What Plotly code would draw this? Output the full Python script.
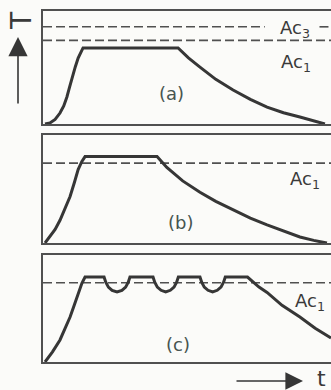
import plotly.graph_objects as go

# ---- data (time in % of window, temperature in % of panel range) ----
AC1 = 74
AC3 = 86

t_a = [0.7, 2.4, 4.2, 5.9, 7.2, 8.3, 9.2, 10.1, 11.2, 12.2, 13.1, 13.9,
       46.9, 50.5, 54.5, 60.0, 66.0, 72.0, 77.8, 83.5, 89.2, 94.0, 97.9]
T_a = [0, 0.9, 4.0, 9.7, 16.0, 23.9, 32.5, 41.6, 50.5, 58.4, 63.8, 67.3,
       67.3, 58.5, 50.4, 39.5, 30.1, 21.8, 15.0, 10.0, 6.2, 2.8, 0]

t_b = [0.7, 2.4, 4.2, 5.9, 7.6, 9.4, 10.9, 12.2, 13.5, 14.6,
       39.6, 43.0, 48.5, 54.5, 60.0, 66.0, 72.0, 77.8, 83.5, 89.2, 94.0, 98.6]
T_b = [0, 5.6, 12.5, 21, 31.5, 43, 56, 68, 75.5, 80,
       80, 70, 57.5, 47, 38.5, 30.6, 23.0, 16.7, 10.8, 5.6, 2.4, 0]

t_c = [0.7, 3.3, 5.9, 7.6, 9.4, 10.9, 12.2, 13.5, 14.6,
       21.2, 21.8, 22.7, 24.0, 25.7, 27.4, 28.7, 29.6, 30.2,
       38.2, 38.8, 39.7, 41.0, 42.6, 44.2, 45.5, 46.4, 47.0,
       54.5, 55.1, 56.0, 57.3, 58.9, 60.5, 61.8, 62.7, 63.3,
       71.0, 72.9, 75.0, 77.8, 83.0, 89.2, 94.5, 100]
T_c = [0, 9.5, 20.6, 31, 42, 53.5, 64.5, 73.5, 79.4,
       79.4, 74.5, 70.0, 67.0, 65.4, 67.0, 70.0, 74.5, 79.4,
       79.4, 74.5, 70.0, 67.0, 65.4, 67.0, 70.0, 74.5, 79.4,
       79.4, 74.5, 70.0, 67.0, 65.4, 67.0, 70.0, 74.5, 79.4,
       79.4, 75, 70, 65, 53, 42, 31.5, 22.4]

dash_t = [0, 100]
ac3_t = [0, 77, None, 96, 100]

panel_labels = ["(a)", "(b)", "(c)"]

W, H = 331, 390
LINE = "#363636"
THIN = "#505050"
TXT = "#3a3a3a"
FONT = "DejaVu Sans"

def px(x):
    return x / W

def py(y):
    return 1 - y / H

fig = go.Figure()

curves = [(t_a, T_a), (t_b, T_b), (t_c, T_c)]
ydoms = [(11, 124), (135, 243), (255, 362)]
for i, ((tt, TT), (top, bot)) in enumerate(zip(curves, ydoms)):
    sfx = "" if i == 0 else str(i + 1)
    fig.add_trace(go.Scatter(x=dash_t, y=[AC1, AC1], mode="lines",
                             line=dict(color=THIN, width=1.6, dash="9px,4px"),
                             xaxis="x" + sfx, yaxis="y" + sfx, hoverinfo="skip"))
    if i == 0:
        fig.add_trace(go.Scatter(x=ac3_t, y=[AC3] * 5, mode="lines",
                                 line=dict(color=THIN, width=1.6, dash="9px,4px"),
                                 xaxis="x", yaxis="y", hoverinfo="skip"))
    fig.add_trace(go.Scatter(x=tt, y=TT, mode="lines",
                             line=dict(color=LINE, width=3),
                             xaxis="x" + sfx, yaxis="y" + sfx, hoverinfo="skip"))
    xa = dict(domain=[px(43), 1], range=[0, 100], showline=True, mirror=True,
              linecolor=THIN, linewidth=1.8, showgrid=False, zeroline=False,
              showticklabels=False, ticks="", fixedrange=True)
    ya = dict(domain=[py(bot), py(top)], range=[0, 100], showline=True,
              mirror=False, linecolor=THIN, linewidth=1.8, showgrid=False,
              zeroline=False, showticklabels=False, ticks="", fixedrange=True)
    if i > 0:
        xa["anchor"] = "y" + sfx
        ya["anchor"] = "x" + sfx
    fig.layout["xaxis" + sfx] = xa
    fig.layout["yaxis" + sfx] = ya

anns = []
def txt(x, y, s, size, color=TXT, angle=0):
    anns.append(dict(x=px(x), y=py(y), xref="paper", yref="paper", text=s,
                     showarrow=False, textangle=angle,
                     font=dict(family=FONT, size=size, color=color),
                     xanchor="center", yanchor="middle"))

txt(171, 93, panel_labels[0], 18, "#465450")
txt(180, 222, panel_labels[1], 18, "#465450")
txt(178, 344, panel_labels[2], 18, "#465450")
txt(295, 29, "Ac<sub>3</sub>", 18)
txt(296, 63, "Ac<sub>1</sub>", 18)
txt(305, 180, "Ac<sub>1</sub>", 18)
txt(310, 302, "Ac<sub>1</sub>", 18)
txt(21, 21, "T", 28, angle=-90)
txt(321, 378, "t", 22)

anns.append(dict(x=px(18), y=py(37), xref="paper", yref="paper", text="",
                 showarrow=True, ax=0, ay=68, arrowhead=2, arrowsize=2.4,
                 arrowwidth=1.6, arrowcolor=LINE, standoff=0))
anns.append(dict(x=px(303), y=py(381), xref="paper", yref="paper", text="",
                 showarrow=True, ax=-68, ay=0, arrowhead=2, arrowsize=2.2,
                 arrowwidth=1.6, arrowcolor=LINE, standoff=0))

fig.update_layout(width=W, height=H, margin=dict(l=0, r=0, t=0, b=0),
                  paper_bgcolor="#fbfbf9", plot_bgcolor="#fbfbf9",
                  showlegend=False, annotations=anns)

fig.write_html("out.html")
